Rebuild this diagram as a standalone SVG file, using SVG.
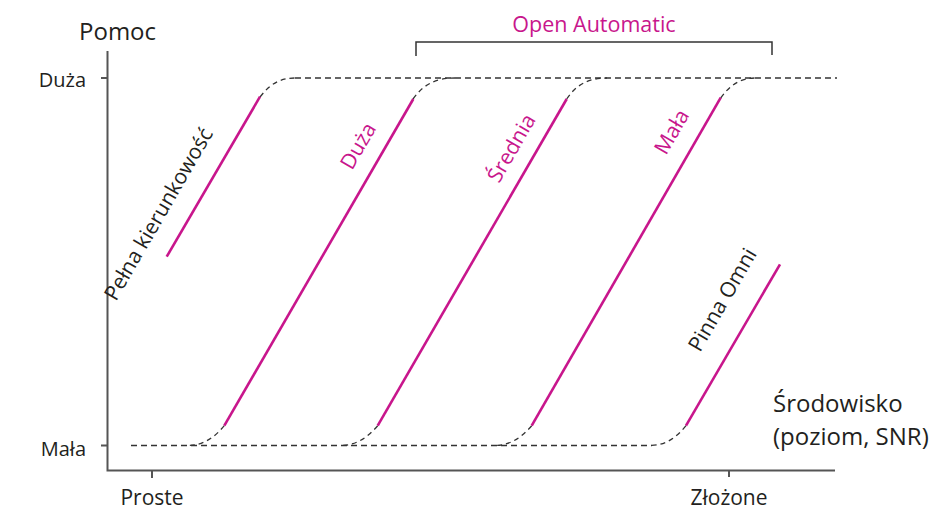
<svg xmlns="http://www.w3.org/2000/svg" width="938" height="512" viewBox="0 0 938 512">
<style>
text { font-family: "Open Sans", "Noto Sans", "DejaVu Sans", sans-serif; fill: #231f20; }
.lbl { fill: #c8168c; }
.axis { stroke: #555; stroke-width: 2; fill: none; }
.dash { stroke: #333; stroke-width: 1.3; stroke-dasharray: 6 4; fill: none; }
.curve { stroke: #333; stroke-width: 1.3; stroke-dasharray: 5 4; fill: none; }
.mag { stroke: #c8168c; stroke-width: 2.6; fill: none; stroke-linecap: butt; }
.br { stroke: #333; stroke-width: 1.5; fill: none; }
</style>
<rect width="938" height="512" fill="#fff"/>
<g id="axes">
  <path class="axis" d="M107.5,51 V470.5 H835"/>
  <path class="axis" d="M101,78 H107.5 M101,445.5 H107.5 M152,470.5 V478 M729,470.5 V477"/>
  <text x="79" y="40" font-size="24">Pomoc</text>
  <text x="86" y="87" font-size="20" text-anchor="end">Duża</text>
  <text x="86" y="456" font-size="20" text-anchor="end">Mała</text>
  <text x="152" y="505" font-size="21" text-anchor="middle">Proste</text>
  <text x="729" y="505" font-size="21" text-anchor="middle">Złożone</text>
  <text x="773" y="412" font-size="24">Środowisko</text>
  <text x="773" y="445" font-size="24">(poziom, SNR)</text>
</g>
<g id="open-automatic">
  <path class="br" d="M416,56 V42 H772 V55"/>
  <text class="lbl" x="594" y="32" font-size="21.5" text-anchor="middle">Open Automatic</text>
</g>
<g id="connectors">
  <path class="dash" d="M295,78 H837"/>
  <path class="dash" d="M131,445.5 H652"/>
  <path class="curve" d="M260,97 C270,84 280,78 295,78"/>
  <path class="curve" d="M413,99 C423,85 435,78 455,78"/>
  <path class="curve" d="M566.7,99 C576,85 588,78 607,78"/>
  <path class="curve" d="M720.7,98 C730,85 740,78 756,78"/>
  <path class="curve" d="M224.3,425.7 C214,438 203,445.5 187,445.5"/>
  <path class="curve" d="M377.7,425.7 C367,438 356,445.5 340,445.5"/>
  <path class="curve" d="M531.7,425.7 C521,438 510,445.5 494,445.5"/>
  <path class="curve" d="M686,425.7 C676,438 665,445.5 650,445.5"/>
</g>
<g id="pelna">
  <path class="mag" d="M166.7,256.7 L260,96.7"/>
  <text transform="translate(116,302) rotate(-60)" font-size="21">Pełna kierunkowość</text>
</g>
<g id="duza">
  <path class="mag" d="M224.3,425.7 L413.3,99"/>
  <text class="lbl" transform="translate(352,171) rotate(-60)" font-size="21">Duża</text>
</g>
<g id="srednia">
  <path class="mag" d="M377.7,425.7 L566.7,99"/>
  <text class="lbl" transform="translate(499,184) rotate(-60)" font-size="21">Średnia</text>
</g>
<g id="mala">
  <path class="mag" d="M531.7,425.7 L720.7,97.7"/>
  <text class="lbl" transform="translate(666,156) rotate(-60)" font-size="21">Mała</text>
</g>
<g id="pinna">
  <path class="mag" d="M686,425.7 L780,264.3"/>
  <text transform="translate(700,353) rotate(-60)" font-size="21">Pinna Omni</text>
</g>
</svg>
